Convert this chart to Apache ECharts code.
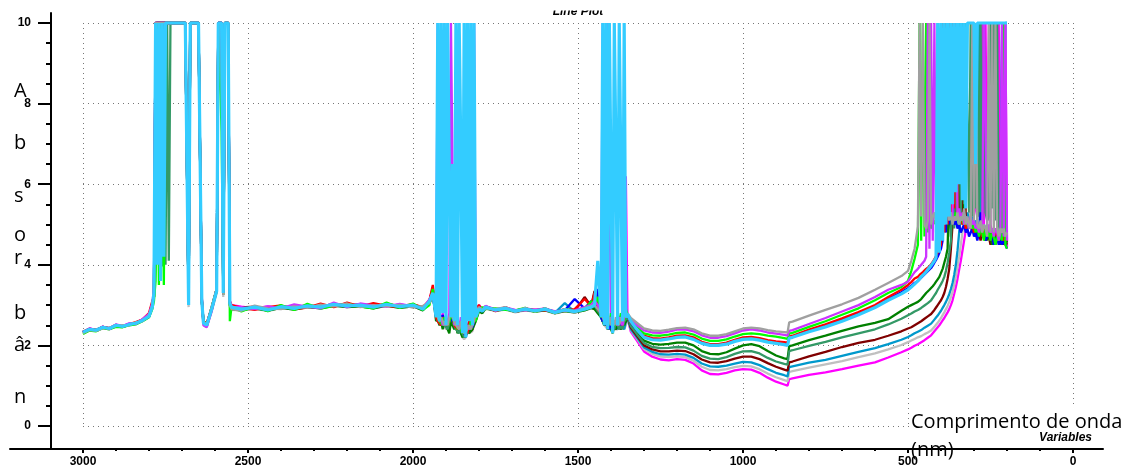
<!DOCTYPE html>
<html><head><meta charset="utf-8">
<script src="https://cdn.jsdelivr.net/npm/echarts@6/dist/echarts.min.js"></script>
<style>html,body{margin:0;padding:0;background:#fff}#c{width:1132px;height:468px}</style>
</head><body><div id="c"></div>
<script>
// ---------- DATA ----------
const wavelengths = [
 3000,2980,2960,2940,2920,2900,2880,2860,2840,2820,2800,2790,
 2785,2780,2775,2770,2765,2760,2755,2750,2745,2740,2735,2730,
 2720,2700,2690,2685,2680,2675,2670,2660,2650,2645,2640,2635,2625,2610,2595,2590,2585,2580,2575,2570,2565,2560,2555,2550,
 2520,2480,2440,2400,2360,2320,2280,2240,2200,2160,2120,2080,2040,2000,1970,1950,
 1940,1930,1925,1920,1915,1910,1905,1900,1895,1890,1885,1880,1875,1870,1865,1860,1855,1850,1845,1840,1835,1830,1825,1820,1815,1810,1800,1790,
 1780,1750,1720,1690,1660,1630,1600,1570,1540,1510,1480,1460,
 1450,1440,1430,1425,1420,1415,1410,1405,1400,1395,1390,1385,1380,1375,1370,1365,1360,1355,1350,1340,
 1320,1300,1275,1250,1225,1200,1175,1150,1125,1100,1075,1050,1025,1000,975,950,925,900,875,865,860,850,800,750,700,650,600,560,520,500,490,480,
 470,465,460,455,450,445,440,435,430,425,420,415,410,405,400,395,390,385,380,375,370,365,360,355,350,345,340,335,330,325,320,315,310,305,300,295,290,285,280,275,270,265,260,255,250,245,240,235,230,225,220,215,210,205,200
];

const magenta = [
 2.33,2.42,2.38,2.46,2.43,2.51,2.48,2.54,2.56,2.64,2.77,3.02,
 3.3,10,10,10,10,10,10,10,10,10,10,10,
 10,10,10,10,3.1,10,10,10,10,10,3.2,2.6,2.55,2.95,3.4,10,10,10,3.35,10,10,10,3.1,3.0,
 2.96,2.92,2.97,2.91,2.98,2.93,3.00,2.97,3.04,2.96,3.03,2.97,3.02,2.96,2.94,3.12,
 3.45,2.8,2.7,2.7,2.6,2.8,2.6,2.6,2.5,2.7,2.85,2.75,2.6,2.5,2.5,2.4,2.6,2.4,2.3,2.3,2.4,2.6,2.5,2.5,10,2.85,3.0,2.9,
 2.97,2.9,2.94,2.87,2.92,2.88,2.92,2.84,2.9,2.86,2.92,2.98,
 3.05,2.9,2.8,2.7,2.6,2.7,10,10,2.5,2.6,2.5,2.6,2.4,2.5,2.6,2.5,2.6,6.2,2.68,2.34,
 2.1,1.85,1.72,1.65,1.63,1.66,1.64,1.55,1.38,1.29,1.28,1.32,1.38,1.41,1.4,1.32,1.2,1.1,1.03,1.0,1.16,1.18,1.27,1.33,1.41,1.5,1.58,1.7,1.83,1.9,1.94,1.99,
 2.03,2.05,2.08,2.1,2.13,2.16,2.19,2.22,2.25,2.3,2.35,2.4,2.45,2.5,2.56,2.62,2.68,2.75,2.82,2.9,3.0,3.12,3.28,3.45,3.65,3.88,4.1,4.35,4.6,4.85,5.0,5.2,5.5,5.3,5.6,5.4,5.2,5.3,5.1,10,5.0,10,5.1,10,5.0,4.8,4.9,4.7,4.8,10,4.7,10,4.6,10,4.45
];
const lightGray = [
 2.30,2.37,2.36,2.43,2.40,2.47,2.45,2.50,2.53,2.60,2.70,2.92,
 3.2,10,10,10,10,10,10,10,10,10,10,10,
 10,10,10,10,2.95,10,10,10,10,10,3.05,2.5,2.45,2.85,3.3,10,10,10,3.2,10,10,10,2.95,2.88,
 2.87,2.91,2.85,2.93,2.89,2.95,2.92,2.98,2.95,2.97,2.92,2.98,2.93,2.97,2.87,3.05,
 3.25,2.65,2.6,2.5,2.6,2.5,2.5,2.4,2.45,2.5,2.6,2.55,2.45,2.45,2.4,2.35,2.4,2.2,2.15,2.2,2.35,2.3,2.3,2.35,2.5,2.6,2.85,2.8,
 2.91,2.85,2.89,2.82,2.87,2.83,2.87,2.79,2.85,2.81,2.87,2.92,
 2.9,2.8,2.7,2.6,2.5,2.5,2.4,2.5,2.4,2.5,2.4,2.4,2.4,2.5,2.4,2.5,2.4,2.5,2.66,2.38,
 2.15,1.91,1.79,1.72,1.71,1.73,1.71,1.62,1.47,1.39,1.38,1.41,1.46,1.49,1.48,1.41,1.3,1.21,1.14,1.11,1.34,1.36,1.45,1.53,1.61,1.71,1.8,1.9,2.01,2.08,2.12,2.16,
 2.2,2.21,2.23,2.25,2.28,2.3,2.32,2.34,2.37,2.41,2.46,2.51,2.56,2.62,2.68,2.75,2.82,2.9,2.98,3.08,3.2,3.33,3.5,3.7,3.95,4.2,4.5,4.8,5.0,5.2,5.0,5.3,5.1,4.9,5.1,4.8,5.0,4.9,4.7,4.9,4.8,4.6,4.8,4.7,4.9,4.7,4.6,4.8,4.7,4.5,4.7,4.6,4.5,4.6,4.5
];
const steelBlue = [
 2.33,2.40,2.38,2.45,2.42,2.50,2.47,2.52,2.55,2.62,2.72,2.95,
 3.3,10,10,10,10,10,10,10,10,10,10,10,
 10,10,10,10,3.0,10,10,10,10,10,3.1,2.55,2.5,2.9,3.35,10,10,10,3.3,10,10,10,3.05,2.95,
 2.89,2.93,2.87,2.95,2.91,2.97,2.94,3.01,2.97,2.99,2.94,3.01,2.95,2.99,2.89,3.07,
 3.3,2.7,2.6,2.6,2.55,2.75,2.6,2.5,2.5,2.7,2.75,2.6,2.55,2.5,2.45,2.4,2.6,2.3,2.25,2.2,2.4,2.6,2.5,2.5,2.6,2.7,2.9,2.85,
 2.93,2.87,2.91,2.84,2.89,2.85,2.89,2.81,3.05,2.83,2.89,2.94,
 2.95,2.85,2.7,2.6,2.6,2.5,2.6,2.4,2.5,2.5,2.4,2.5,2.4,2.6,2.5,2.5,2.4,2.6,2.68,2.4,
 2.18,1.95,1.84,1.78,1.77,1.79,1.77,1.69,1.55,1.48,1.47,1.5,1.55,1.59,1.58,1.51,1.41,1.32,1.26,1.23,1.46,1.48,1.57,1.64,1.74,1.84,1.93,2.03,2.14,2.21,2.25,2.3,
 2.34,2.36,2.38,2.41,2.44,2.46,2.49,2.51,2.54,2.59,2.64,2.69,2.74,2.8,2.86,2.93,3.0,3.08,3.17,3.27,3.4,3.55,3.75,4.0,4.35,4.8,5.3,5.0,5.2,5.0,5.3,5.1,4.9,5.2,5.0,5.1,4.9,10,5.0,4.8,5.0,4.9,4.7,4.9,4.8,4.6,4.8,4.7,4.9,4.7,4.8,10,4.7,10,10
];
const darkRed = [
 2.34,2.41,2.38,2.46,2.42,2.50,2.47,2.53,2.56,2.63,2.76,3.05,
 3.2,6.8,10,10,10,10,10,10,10,10,10,10,
 10,10,10,10,3.05,10,10,10,10,10,3.15,2.6,2.52,2.95,3.4,10,10,10,3.3,10,10,10,3.05,2.95,
 2.94,2.96,2.92,2.97,2.95,2.99,2.96,3.03,2.99,3.02,2.97,3.03,2.98,3.02,2.93,3.11,
 3.4,2.75,2.65,2.6,2.65,2.5,2.55,2.5,2.55,2.6,2.7,2.65,2.55,2.45,2.4,2.45,2.5,2.3,2.25,2.3,2.45,2.4,2.35,2.4,2.65,2.75,2.95,2.9,
 2.96,2.89,2.93,2.86,2.91,2.87,2.91,2.83,2.89,2.85,3.2,2.97,
 3.35,2.9,2.8,2.6,2.7,2.5,2.5,2.6,2.4,2.5,2.5,2.4,2.6,2.5,2.4,2.5,2.5,2.6,2.7,2.44,
 2.22,2.0,1.9,1.85,1.85,1.87,1.86,1.78,1.65,1.58,1.57,1.61,1.67,1.72,1.72,1.66,1.56,1.47,1.4,1.37,1.58,1.6,1.73,1.84,1.96,2.06,2.14,2.24,2.35,2.42,2.45,2.5,
 2.55,2.57,2.6,2.63,2.66,2.69,2.72,2.75,2.78,2.83,2.88,2.94,3.0,3.06,3.12,3.2,3.3,3.45,3.65,3.9,4.4,5.0,5.7,5.2,10,5.3,5.1,5.2,10,5.0,5.1,4.9,5.0,4.8,4.9,4.7,4.9,4.8,4.6,4.8,4.7,4.6,4.8,4.7,4.5,4.7,4.6,4.5,4.7,4.6,4.5,4.6,4.5,4.6,4.5
];
const darkGreen = [
 2.31,2.39,2.36,2.44,2.41,2.48,2.46,2.51,2.54,2.61,2.71,2.98,
 3.2,10,10,10,10,10,10,10,10,10,10,10,
 10,10,10,10,3.0,10,10,10,10,10,3.1,2.55,2.48,2.88,3.35,10,10,10,3.25,10,10,10,3.0,2.9,
 2.88,2.92,2.86,2.93,2.89,2.95,2.92,2.99,2.95,2.97,2.92,2.99,2.93,2.97,2.87,3.05,
 3.3,2.6,2.7,2.5,2.6,2.4,2.6,2.5,2.4,2.3,2.6,2.5,2.4,2.5,2.3,2.4,2.3,2.2,2.2,2.3,2.4,2.3,2.3,2.4,2.5,2.6,2.85,2.8,
 2.92,2.86,2.9,2.83,2.88,2.84,2.87,2.8,2.85,2.82,2.87,2.93,
 2.9,2.8,2.7,2.6,2.5,2.6,2.4,2.5,2.5,2.3,2.5,2.4,2.5,2.5,2.4,2.6,2.5,2.6,2.72,2.52,
 2.3,2.12,2.04,2.02,2.04,2.07,2.07,2.0,1.86,1.79,1.78,1.83,1.92,2.0,2.03,1.98,1.86,1.75,1.68,1.66,1.98,2.0,2.13,2.24,2.36,2.47,2.56,2.65,2.86,2.96,3.0,3.04,
 3.08,3.12,3.15,3.2,3.25,3.3,3.34,3.38,3.42,3.47,3.52,3.58,3.64,3.7,3.8,3.9,4.05,4.2,4.4,6.0,4.7,6.1,5.0,10,5.2,10,5.3,10,5.1,5.2,5.0,5.1,4.9,5.0,4.8,5.0,4.9,4.7,4.9,4.8,4.7,4.8,4.6,4.8,4.7,4.5,4.7,4.6,4.8,4.6,4.5,4.7,4.6,4.5,4.6
];
const seaGreen = [
 2.32,2.39,2.38,2.44,2.42,2.49,2.46,2.52,2.54,2.62,2.74,3.0,
 3.2,4.0,10,4.0,10,3.96,10,4.0,10,4.1,10,10,
 10,10,10,10,3.05,10,10,10,10,10,3.15,2.58,2.5,2.92,3.38,10,10,10,3.3,10,10,10,3.0,2.92,
 2.92,2.94,2.91,2.95,2.94,2.97,2.96,3.01,2.97,3.01,2.96,3.01,2.97,3.01,2.91,3.08,
 3.35,2.7,2.6,2.6,2.5,2.7,2.5,2.5,2.4,2.6,2.7,2.6,2.5,2.4,2.4,2.3,2.5,2.3,2.2,2.2,2.3,2.5,2.4,2.4,2.6,2.7,2.9,2.85,
 2.94,2.87,2.91,2.84,2.89,2.85,2.89,2.81,2.87,2.83,2.89,2.96,
 3.0,2.85,2.75,2.6,2.5,2.5,2.6,2.4,2.5,2.5,2.4,2.6,2.5,2.4,2.5,2.4,2.6,2.65,2.7,2.48,
 2.26,2.06,1.96,1.93,1.94,1.96,1.95,1.87,1.74,1.67,1.66,1.71,1.79,1.85,1.86,1.8,1.69,1.6,1.54,1.52,1.86,1.88,1.99,2.09,2.2,2.3,2.4,2.52,2.66,2.75,2.79,2.84,
 2.88,2.9,2.93,2.96,2.99,3.02,3.05,3.08,3.12,3.18,3.24,3.3,3.38,3.45,3.52,3.6,3.7,3.85,4.05,4.3,4.6,6.2,4.9,6.5,5.1,10,5.3,10,5.5,10,10,5.3,10,5.2,10,5.4,10,5.2,10,5.1,10,5.3,5.1,5.2,10,5.4,10,5.1,10,5.0,4.8,5.0,4.7,4.9,4.7
];
const blue = [
 2.33,2.40,2.37,2.45,2.41,2.49,2.47,2.52,2.55,2.61,2.72,2.96,
 3.3,10,10,10,10,10,10,10,10,10,10,10,
 10,10,10,10,3.0,10,10,10,10,10,3.1,2.58,2.52,2.92,3.38,10,10,10,3.3,10,10,10,3.05,2.95,
 2.91,2.93,2.90,2.94,2.95,2.96,2.97,3.0,2.99,3.01,2.97,3.0,2.98,2.99,2.93,3.08,
 3.2,2.75,2.7,2.65,2.6,2.75,2.6,2.55,2.6,2.65,2.7,2.6,2.55,2.5,2.45,2.5,2.55,2.35,2.3,2.25,2.4,2.55,2.5,2.45,2.6,2.75,2.9,2.85,
 2.94,2.89,2.91,2.86,2.9,2.85,2.89,2.83,2.87,3.15,2.92,3.1,
 3.0,3.4,2.7,2.6,2.7,2.5,2.6,2.4,2.6,2.5,2.6,2.5,2.7,2.6,2.5,2.7,2.8,2.7,2.75,2.56,
 2.38,2.22,2.16,2.15,2.18,2.22,2.23,2.18,2.07,2.01,2.01,2.05,2.12,2.17,2.19,2.15,2.1,2.07,2.05,2.04,2.2,2.22,2.36,2.49,2.63,2.8,2.97,3.15,3.32,3.42,3.48,3.55,
 3.6,3.64,3.68,3.72,3.76,3.8,3.84,3.88,3.92,3.98,4.05,4.12,4.2,4.3,4.4,4.6,5.4,4.8,10,5.0,10,5.2,5.0,5.1,4.9,5.0,4.8,4.9,5.0,4.8,4.9,4.7,4.8,4.9,4.7,4.8,4.6,4.8,5.3,4.7,4.8,4.6,4.7,4.8,4.6,4.7,4.5,4.6,4.7,4.5,4.6,4.5,4.6,4.5,4.4
];
const red = [
 2.34,2.41,2.39,2.46,2.43,2.51,2.48,2.53,2.58,2.64,2.80,3.10,
 3.2,10,10,10,10,10,10,10,10,10,10,10,
 10,10,10,10,3.0,10,10,10,10,10,3.1,2.6,2.55,2.9,3.4,10,10,10,3.3,10,10,10,3.1,3.0,
 2.93,2.88,2.95,2.99,2.90,2.94,3.04,2.95,3.06,2.97,3.05,2.98,2.95,3.02,2.95,3.12,
 3.5,2.7,2.6,2.6,2.5,2.7,2.6,2.6,2.5,2.6,2.9,2.7,2.5,2.5,2.4,2.4,2.5,2.3,2.4,2.4,2.3,2.6,2.5,2.5,2.7,2.9,3.0,2.85,
 2.97,2.85,2.95,2.84,2.88,2.88,2.87,2.84,2.86,2.9,3.15,2.97,
 3.3,2.9,2.8,2.7,2.6,2.6,2.5,2.6,2.7,2.5,2.6,2.5,2.5,2.7,2.6,2.5,2.9,2.8,2.75,2.57,
 2.4,2.24,2.18,2.17,2.2,2.24,2.25,2.2,2.09,2.03,2.03,2.07,2.14,2.2,2.21,2.18,2.13,2.1,2.08,2.07,2.22,2.24,2.39,2.52,2.67,2.83,3.0,3.2,3.38,3.5,3.57,3.66,
 3.7,3.75,3.78,3.82,3.86,3.9,3.93,3.96,4.0,4.07,4.14,4.22,4.3,4.4,4.5,10,4.8,10,5.0,10,5.2,10,5.4,10,5.3,5.1,5.2,5.0,5.1,4.9,5.0,5.1,4.9,5.0,4.8,4.9,5.0,4.8,4.9,4.7,4.8,4.9,4.7,4.8,4.6,4.8,4.7,4.9,4.7,4.6,4.8,4.7,4.6,4.7,4.6
];
const green = [
 2.28,2.37,2.35,2.43,2.40,2.46,2.45,2.50,2.52,2.60,2.70,2.90,
 3.1,3.6,10,3.5,10,10,3.5,10,10,10,10,10,
 10,10,10,10,3.05,10,10,10,10,10,3.15,2.6,2.52,2.95,3.4,10,10,7.3,3.4,10,10,10,2.6,2.95,
 2.84,2.97,2.85,3.00,2.88,3.03,2.91,2.98,3.03,2.96,2.92,3.06,2.93,3.04,2.88,3.0,
 3.4,2.85,2.7,2.6,2.6,2.5,2.7,2.6,2.5,2.6,2.6,2.8,2.5,2.6,2.4,2.5,2.4,2.3,2.4,2.3,2.5,2.4,2.6,2.5,2.7,2.6,2.9,2.95,
 2.9,2.92,2.88,2.87,2.93,2.83,2.92,2.8,2.9,2.86,2.88,3.1,
 3.0,3.2,2.7,2.8,2.6,2.6,2.7,2.5,2.8,2.6,2.6,2.5,2.7,2.6,2.8,2.7,2.6,2.9,2.76,2.6,
 2.45,2.3,2.25,2.24,2.27,2.31,2.32,2.27,2.17,2.11,2.11,2.15,2.22,2.28,2.3,2.28,2.24,2.22,2.18,2.16,2.29,2.31,2.46,2.6,2.76,2.92,3.12,3.3,3.45,3.6,3.85,4.15,
 4.5,10,4.6,10,4.7,10,4.8,10,4.9,5.0,5.1,5.0,5.2,5.1,5.3,5.2,7.1,5.3,5.2,5.4,5.2,5.3,5.1,5.3,5.2,5.0,5.2,5.1,5.0,5.2,5.0,4.9,5.1,4.9,5.0,4.8,5.0,4.7,4.9,4.8,4.6,4.9,4.7,4.8,4.6,4.8,4.7,4.5,4.7,4.6,4.8,4.6,10,4.5,4.4
];
const purple = [
 2.32,2.42,2.37,2.47,2.40,2.52,2.48,2.55,2.53,2.65,2.78,3.05,
 3.4,10,10,10,10,10,10,10,10,10,10,10,
 10,10,10,10,3.1,10,10,10,10,10,3.2,2.5,2.45,2.85,3.4,10,10,10,3.35,10,10,10,3.1,2.95,
 2.95,2.90,2.97,2.92,3.02,2.96,2.92,3.06,2.95,3.04,2.99,2.96,3.03,2.97,2.92,3.15,
 3.3,2.75,10,2.6,2.7,2.5,2.6,2.5,2.6,2.8,10,10,2.5,2.6,2.5,2.4,2.7,2.5,2.3,2.4,2.5,2.4,2.4,2.5,8.0,2.7,2.95,2.85,
 2.98,2.86,2.94,2.88,2.87,2.89,2.88,2.85,2.86,2.87,2.95,3.0,
 3.1,3.0,2.8,10,2.6,2.7,2.5,2.6,2.7,2.5,2.6,2.6,2.5,2.7,2.6,2.5,2.7,2.8,2.78,2.63,
 2.5,2.37,2.32,2.31,2.34,2.39,2.4,2.35,2.25,2.19,2.19,2.23,2.3,2.37,2.4,2.37,2.32,2.29,2.26,2.24,2.36,2.38,2.53,2.68,2.84,3.0,3.2,3.38,3.5,3.58,3.7,3.82,
 3.9,3.95,4.0,4.05,4.1,4.2,10,4.4,10,4.6,10,4.8,10,10,5.0,5.1,5.3,5.2,5.4,5.2,5.3,5.1,10,10,5.2,5.4,5.1,5.3,5.0,5.2,5.1,4.9,5.2,5.0,5.1,4.9,5.0,4.8,5.0,4.9,10,10,4.8,5.0,4.8,4.9,4.7,4.9,4.8,4.6,4.8,10,4.7,10,4.6
];
const gray = [
 2.30,2.38,2.36,2.42,2.44,2.48,2.50,2.50,2.57,2.60,2.75,3.0,
 3.3,10,10,10,10,10,10,10,10,10,10,10,
 10,10,10,10,3.05,10,10,10,10,10,3.15,2.6,2.5,2.95,3.4,10,10,10,3.25,10,10,10,3.0,2.9,
 2.86,2.99,2.92,2.90,2.97,2.93,3.01,2.97,3.04,2.95,3.00,2.97,3.01,2.94,2.98,3.05,
 3.25,2.8,2.7,2.6,2.7,2.6,2.5,2.6,2.5,2.7,2.8,2.7,2.6,2.5,2.5,2.4,2.6,2.4,2.3,2.3,2.4,2.5,2.4,2.4,2.6,2.8,2.95,2.9,
 2.92,2.9,2.95,2.83,2.93,2.84,2.92,2.8,2.9,2.82,2.93,2.98,
 3.0,2.9,2.8,2.7,2.6,2.6,2.5,2.7,2.5,2.6,2.5,2.7,2.6,2.5,2.7,2.6,2.8,2.7,2.8,2.68,
 2.55,2.42,2.37,2.36,2.39,2.43,2.44,2.40,2.30,2.24,2.24,2.28,2.35,2.42,2.44,2.42,2.38,2.35,2.33,2.32,2.57,2.59,2.74,2.88,3.02,3.18,3.38,3.55,3.72,3.85,4.1,4.4,
 4.95,10,5.2,10,5.0,4.9,5.1,10,5.0,5.2,5.3,5.0,5.2,5.4,5.1,5.3,5.0,5.2,5.4,5.1,5.3,5.0,5.2,5.1,5.3,5.0,5.2,5.1,5.4,5.0,5.2,5.0,4.9,10,5.1,10,5.0,4.9,5.1,4.8,5.0,4.9,4.7,10,4.8,10,4.8,10,4.9,4.7,4.9,4.8,4.9,4.7,4.8
];
const cyan = [
 2.33,2.40,2.38,2.45,2.42,2.50,2.47,2.52,2.55,2.62,2.72,2.95,
 3.3,10,4.0,10,3.6,10,4.2,10,10,10,10,10,
 10,10,10,10,3.0,10,10,10,10,10,3.1,2.55,2.5,2.9,3.35,10,10,10,3.3,10,10,10,3.05,2.95,
 2.90,2.95,2.88,2.96,2.92,2.98,2.95,3.02,2.98,3.00,2.95,3.02,2.96,3.0,2.9,3.1,
 3.3,2.7,10,2.6,10,2.8,10,2.5,10,10,2.7,6.5,2.6,10,2.5,10,6.8,2.3,10,2.2,10,2.6,10,2.5,10,2.7,2.9,2.85,
 2.95,2.88,2.92,2.85,2.9,2.86,2.9,2.82,2.88,2.84,2.9,2.95,
 3.0,4.1,2.7,10,2.5,10,2.4,10,10,2.3,10,6.8,2.5,10,10,2.6,10,2.7,2.78,2.6,
 2.38,2.2,2.14,2.13,2.16,2.2,2.21,2.15,2.05,2.0,2.0,2.03,2.1,2.15,2.16,2.13,2.08,2.05,2.02,2.0,2.18,2.2,2.34,2.46,2.6,2.76,2.94,3.12,3.28,3.38,3.45,3.52,
 3.6,3.65,3.7,3.74,3.78,3.83,3.88,3.93,3.98,4.04,4.1,4.18,10,4.3,10,4.6,10,5.0,10,5.2,10,5.5,10,5.8,10,6.0,10,5.6,10,5.4,10,10,10,10,10,6.5,10,10,10,10,10,10,10,10,10,10,10,10,10,10,10,10,10,10,10
];

const yTitleLetters = ['A','b','s','o','r','b','â','n'];

// ---------- STYLE / LAYOUT ----------
const seriesList = [
  {name:'magenta', values:magenta, color:'#ff00ff'},
  {name:'lightGray', values:lightGray, color:'#c0c0c0'},
  {name:'steelBlue', values:steelBlue, color:'#0099cc'},
  {name:'darkRed', values:darkRed, color:'#800000'},
  {name:'darkGreen', values:darkGreen, color:'#008000'},
  {name:'seaGreen', values:seaGreen, color:'#339966'},
  {name:'blue', values:blue, color:'#0000ff'},
  {name:'red', values:red, color:'#ff0000'},
  {name:'green', values:green, color:'#00ff00'},
  {name:'purple', values:purple, color:'#cc33ff'},
  {name:'gray', values:gray, color:'#a0a0a0'},
  {name:'cyan', values:cyan, color:'#33ccff'}
];
seriesList.forEach(s => { if (s.values.length !== wavelengths.length) console.error('length mismatch', s.name, s.values.length, wavelengths.length); });

const letterX = 14;
const letterY = [91.5, 143.5, 196.5, 235.5, 258.5, 313.5, 345.5, 397.5];
const axisFont = 'Liberation Sans, Arial, sans-serif';
const gridLine = {show:true, lineStyle:{color:'#777', type:[1,4], width:1}};

const chart = echarts.init(document.getElementById('c'), null, {renderer:'canvas'});

const graphics = [];
yTitleLetters.forEach((t, i) => {
  graphics.push({type:'text', x:letterX, y:letterY[i], z:100,
    style:{text:t, fill:'#000', font:'20px "Open Sans"', align:'left', textAlign:'left', verticalAlign:'middle', textVerticalAlign:'middle'}});
});
graphics.push({type:'text', x:578, y:12, z:100,
  style:{text:'Line Plot', fill:'#000', font:'italic bold 12px ' + axisFont, align:'center', textAlign:'center', verticalAlign:'middle', textVerticalAlign:'middle'}});
graphics.push({type:'rect', z:101, shape:{x:530, y:0, width:100, height:10.5}, style:{fill:'#fff'}});
graphics.push({type:'rect', z:100, shape:{x:909, y:405, width:223, height:30}, style:{fill:'#fff'}});
graphics.push({type:'text', x:1092, y:438, z:102,
  style:{text:'Variables', fill:'#000', font:'italic bold 12px ' + axisFont, align:'right', textAlign:'right', verticalAlign:'middle', textVerticalAlign:'middle'}});
graphics.push({type:'text', x:911, y:422, z:103,
  style:{text:'Comprimento de onda', fill:'#000', font:'20px "Open Sans"', align:'left', textAlign:'left', verticalAlign:'middle', textVerticalAlign:'middle'}});
graphics.push({type:'text', x:911, y:450, z:103,
  style:{text:'(nm)', fill:'#000', font:'20px "Open Sans"', align:'left', textAlign:'left', verticalAlign:'middle', textVerticalAlign:'middle'}});

chart.setOption({
  animation:false,
  backgroundColor:'#fff',
  grid:[
    {left:83, right:59, top:23, bottom:41},
    {left:10, right:29, top:13, bottom:19},
    {left:51, right:29, top:13, bottom:19}
  ],
  xAxis:[
    {gridIndex:0, type:'value', min:0, max:3000, interval:500, inverse:true, offset:22, position:'bottom',
     axisLine:{show:false, onZero:false},
     axisTick:{show:true, length:5, lineStyle:{color:'#000', width:2}},
     minorTick:{show:true, splitNumber:5, length:3, lineStyle:{color:'#000', width:2}},
     axisLabel:{color:'#000', fontSize:12, fontWeight:'bold', fontFamily:axisFont, margin:8, showMinLabel:true, showMaxLabel:true, formatter: v => String(v)},
     splitLine:gridLine},
    {gridIndex:1, type:'value', min:0, max:1, position:'bottom',
     axisLine:{show:true, onZero:false, lineStyle:{color:'#000', width:2}},
     axisTick:{show:false}, axisLabel:{show:false}, splitLine:{show:false}},
    {gridIndex:2, type:'value', min:0, max:1, show:false}
  ],
  yAxis:[
    {gridIndex:0, type:'value', min:0, max:10, interval:2, offset:32, position:'left',
     axisLine:{show:false, onZero:false},
     axisTick:{show:true, length:13, lineStyle:{color:'#000', width:2}},
     minorTick:{show:true, splitNumber:4, length:5, lineStyle:{color:'#000', width:2}},
     axisLabel:{color:'#000', fontSize:12, fontWeight:'bold', fontFamily:axisFont, margin:20, showMinLabel:true, showMaxLabel:true},
     splitLine:gridLine},
    {gridIndex:1, type:'value', min:0, max:1, show:false},
    {gridIndex:2, type:'value', min:0, max:1, position:'left',
     axisLine:{show:true, onZero:false, lineStyle:{color:'#000', width:2}},
     axisTick:{show:false}, axisLabel:{show:false}, splitLine:{show:false}}
  ],
  series: seriesList.map(s => ({
    type:'line', name:s.name, xAxisIndex:0, yAxisIndex:0,
    data: wavelengths.map((w, i) => [w, s.values[i]]),
    showSymbol:false, symbol:'none', clip:false, silent:true, animation:false,
    lineStyle:{color:s.color, width: s.name === 'cyan' ? 3.2 : 2.3},
    itemStyle:{color:s.color}
  })),
  graphic: graphics
});
</script>
</body></html>
